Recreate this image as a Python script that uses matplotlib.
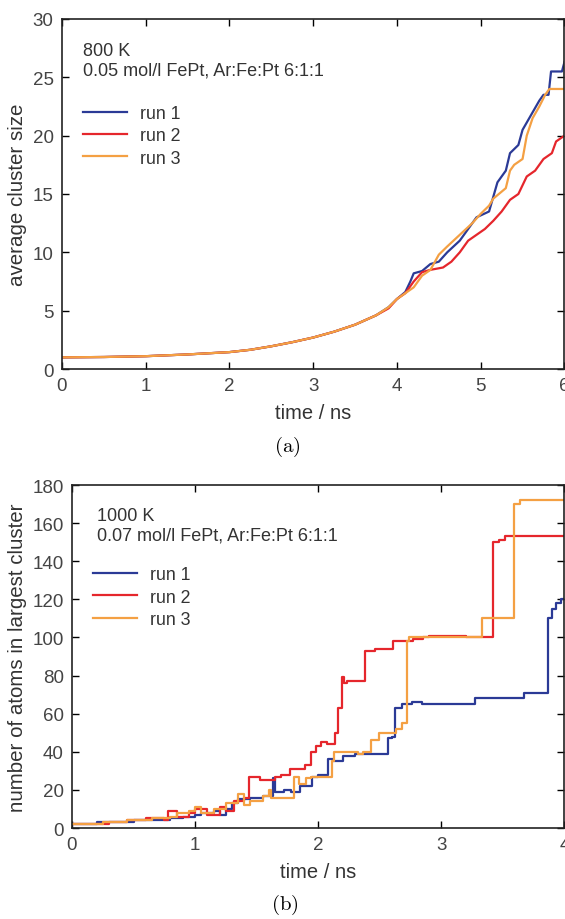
import matplotlib
matplotlib.use("Agg")
import matplotlib.pyplot as plt

plt.rcParams['font.family'] = ['Liberation Sans', 'DejaVu Sans']
plt.rcParams['mathtext.fontset'] = 'cm'

# ---------------- panel (a) data ----------------
t_a1 = [0, 0.5, 1, 1.5, 2, 2.25, 2.5, 2.75, 3, 3.25, 3.5, 3.75, 3.9, 4.0, 4.1, 4.16, 4.2, 4.3,
        4.4, 4.5, 4.6, 4.75, 4.85, 4.95, 5.1, 5.16, 5.2, 5.3, 5.35, 5.45, 5.5, 5.58, 5.66, 5.7,
        5.75, 5.81, 5.84, 5.97, 6.0]
v_a1 = [1.0, 1.03, 1.1, 1.25, 1.45, 1.65, 1.95, 2.3, 2.7, 3.2, 3.8, 4.6, 5.3, 6.0, 6.6, 7.5,
        8.2, 8.4, 9.0, 9.2, 10.0, 11.0, 12.0, 13.0, 13.5, 15.0, 16.0, 17.0, 18.5, 19.2, 20.5,
        21.5, 22.5, 23.0, 23.5, 23.5, 25.5, 25.5, 26.3]
t_a2 = [0, 0.5, 1, 1.5, 2, 2.25, 2.5, 2.75, 3, 3.25, 3.5, 3.75, 3.9, 4.0, 4.1, 4.2, 4.3, 4.4,
        4.55, 4.65, 4.75, 4.85, 4.95, 5.05, 5.15, 5.25, 5.35, 5.45, 5.55, 5.65, 5.75, 5.85,
        5.9, 6.0]
v_a2 = [1.0, 1.03, 1.1, 1.25, 1.45, 1.65, 1.95, 2.3, 2.7, 3.2, 3.8, 4.6, 5.2, 6.0, 6.5, 7.5,
        8.3, 8.5, 8.7, 9.2, 10.0, 11.0, 11.5, 12.0, 12.7, 13.5, 14.5, 15.0, 16.5, 17.0, 18.0,
        18.5, 19.5, 20.0]
t_a3 = [0, 0.5, 1, 1.5, 2, 2.25, 2.5, 2.75, 3, 3.25, 3.5, 3.75, 3.9, 4.0, 4.1, 4.2, 4.3, 4.4,
        4.5, 4.6, 4.75, 4.9, 5.0, 5.1, 5.15, 5.3, 5.35, 5.4, 5.5, 5.55, 5.62, 5.7, 5.77, 5.82,
        6.0]
v_a3 = [1.0, 1.03, 1.1, 1.25, 1.45, 1.65, 1.95, 2.3, 2.7, 3.2, 3.8, 4.6, 5.3, 6.0, 6.5, 7.0,
        8.0, 8.5, 9.8, 10.5, 11.5, 12.5, 13.3, 14.0, 14.6, 15.5, 17.0, 17.5, 18.0, 20.0, 21.5,
        22.5, 23.5, 24.0, 24.0]

# ---------------- panel (b) data ----------------
t_b1 = [0, 0.2, 0.45, 0.5, 0.7, 0.8, 0.9, 1.0, 1.05, 1.15, 1.2, 1.25, 1.3, 1.35, 1.45, 1.55,
        1.6, 1.63, 1.65, 1.72, 1.78, 1.85, 1.95, 2.0, 2.08, 2.12, 2.2, 2.3, 2.57, 2.6, 2.62,
        2.68, 2.76, 2.84, 3.27, 3.67, 3.87, 3.9, 3.93, 3.97, 4.0]
v_b1 = [2, 3, 3, 4, 4, 5, 6, 7, 8, 9, 7, 10, 13, 15, 16, 17, 17, 26, 19, 20, 19, 22, 27, 28,
        36, 35, 38, 39, 47, 48, 63, 65, 66, 65, 68, 71, 110, 115, 118, 120, 120]
t_b2 = [0, 0.3, 0.45, 0.6, 0.75, 0.78, 0.85, 0.95, 1.0, 1.1, 1.2, 1.25, 1.32, 1.4, 1.44, 1.53,
        1.65, 1.7, 1.77, 1.89, 1.94, 1.98, 2.02, 2.07, 2.14, 2.16, 2.19, 2.21, 2.23, 2.38,
        2.46, 2.61, 2.77, 2.85, 2.9, 3.2, 3.42, 3.47, 3.52, 4.0]
v_b2 = [2, 3, 4, 5, 4, 9, 6, 8, 10, 7, 11, 9, 14, 16, 27, 25, 27, 28, 31, 33, 40, 43, 45, 44,
        50, 63, 79, 76, 77, 93, 94, 98, 99, 100, 101, 100, 150, 151, 153, 153]
t_b3 = [0, 0.25, 0.45, 0.65, 0.8, 0.85, 0.95, 1.0, 1.05, 1.15, 1.25, 1.35, 1.4, 1.45, 1.55,
        1.6, 1.62, 1.8, 1.84, 1.9, 1.94, 2.11, 2.13, 2.32, 2.36, 2.43, 2.49, 2.63, 2.68, 2.72,
        2.74, 2.78, 3.33, 3.59, 3.64, 4.0]
v_b3 = [2, 3, 4, 5, 6, 8, 9, 11, 8, 10, 13, 18, 12, 14, 17, 20, 16, 27, 23, 26, 27, 35, 40,
        39, 40, 46, 50, 52, 55, 98, 100, 100, 110, 170, 172, 172]

labels = ['run 1', 'run 2', 'run 3']
colors = ['#2b3a96', '#e5262c', '#f4a043']
txt = '#333333'

fig = plt.figure(figsize=(5.65, 9.2), dpi=100)
ax1 = fig.add_axes([0.1097, 0.5978, 0.8893, 0.3805])
ax2 = fig.add_axes([0.1274, 0.0989, 0.8716, 0.3728])

for t, v, lab, c in zip([t_a1, t_a2, t_a3], [v_a1, v_a2, v_a3], labels, colors):
    ax1.plot(t, v, color=c, lw=1.6, label=lab)
for t, v, lab, c in zip([t_b1, t_b2, t_b3], [v_b1, v_b2, v_b3], labels, colors):
    ax2.plot(t, v, color=c, lw=1.6, label=lab, drawstyle='steps-post')

def style(ax, xmax, ymax, ystep, ylabel, legy):
    ax.set_xlim(0, xmax)
    ax.set_ylim(0, ymax)
    ax.set_xticks(range(0, xmax + 1))
    ax.set_yticks(range(0, ymax + 1, ystep))
    ax.tick_params(direction='in', top=True, right=True, length=5, width=1,
                   labelsize=13.5, labelcolor='#444444', pad=6)
    for s in ax.spines.values():
        s.set_linewidth(1.2)
        s.set_color('#222222')
    ax.set_xlabel('time / ns', fontsize=14.5, color=txt, labelpad=6)
    ax.set_ylabel(ylabel, fontsize=14.8, color=txt, labelpad=4)
    leg = ax.legend(loc='upper left', bbox_to_anchor=(0.01, legy), frameon=False,
                    fontsize=12.8, handlelength=2.5, handletextpad=0.7, labelspacing=0.3)
    for tx in leg.get_texts():
        tx.set_color(txt)

style(ax1, 6, 30, 5, 'average cluster size', 0.80)
style(ax2, 4, 180, 20, 'number of atoms in largest cluster', 0.81)

ax1.text(0.042, 0.935, '800 K', transform=ax1.transAxes, fontsize=13, color=txt, va='top')
ax1.text(0.042, 0.878, '0.05 mol/l FePt, Ar:Fe:Pt 6:1:1', transform=ax1.transAxes,
         fontsize=13, color=txt, va='top')
ax2.text(0.050, 0.935, '1000 K', transform=ax2.transAxes, fontsize=13, color=txt, va='top')
ax2.text(0.050, 0.878, '0.07 mol/l FePt, Ar:Fe:Pt 6:1:1', transform=ax2.transAxes,
         fontsize=13, color=txt, va='top')

fig.text(287 / 565, 1 - 447 / 920, r'$\mathrm{(a)}$', ha='center', va='center', fontsize=15)
fig.text(285 / 565, 1 - 905 / 920, r'$\mathrm{(b)}$', ha='center', va='center', fontsize=15)

fig.savefig('out.png', dpi=100)
